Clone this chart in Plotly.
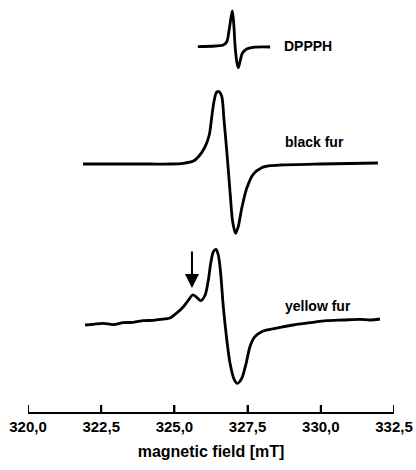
import plotly.graph_objects as go

# ---- data (magnetic field in mT, intensity in arbitrary units incl. vertical offset) ----
dpph_field = [325.80, 326.39, 326.67, 326.79, 326.86, 326.93, 326.98, 327.03, 327.07,
              327.13, 327.18, 327.24, 327.32, 327.47, 327.69, 328.27]
dpph_signal = [365.3, 366.0, 367.0, 370.3, 380.3, 393.7, 401.0, 387.0, 367.0,
               350.3, 344.3, 350.3, 358.7, 363.0, 364.7, 365.0]

black_field = [321.88, 322.80, 324.17, 324.85, 325.30, 325.65, 325.87, 326.05, 326.19,
               326.27, 326.35, 326.44, 326.53, 326.62, 326.69, 326.79, 326.90, 326.99,
               327.09, 327.18, 327.30, 327.47, 327.69, 327.98, 328.27, 328.61, 329.97,
               331.95]
black_signal = [248.0, 248.0, 248.0, 248.0, 248.7, 251.0, 257.0, 265.3, 277.0,
                293.7, 310.3, 319.7, 320.3, 315.3, 293.7, 260.3, 220.3, 190.3,
                178.7, 185.3, 203.7, 223.7, 237.7, 244.3, 246.3, 247.0, 248.0,
                249.0]

yellow_field = [321.95, 322.23, 322.57, 322.91, 323.25, 323.60, 323.94, 324.28, 324.51,
                324.85, 325.08, 325.30, 325.47, 325.62, 325.76, 325.90, 326.05, 326.16,
                326.24, 326.33, 326.42, 326.50, 326.58, 326.67, 326.79, 326.90, 327.04,
                327.15, 327.30, 327.45, 327.58, 327.75, 327.98, 328.27, 328.61, 329.06,
                329.63, 330.20, 330.77, 331.34, 331.68, 332.02]
yellow_signal = [87.0, 87.7, 88.7, 87.3, 89.3, 89.7, 91.3, 91.7, 92.7,
                 94.0, 99.0, 105.0, 111.5, 117.0, 114.7, 111.3, 117.0, 132.0,
                 148.7, 160.3, 162.7, 157.0, 138.7, 105.3, 72.0, 48.7, 32.7,
                 28.7, 33.7, 48.7, 65.3, 75.3, 80.3, 82.7, 84.7, 87.0,
                 89.3, 91.3, 92.0, 92.7, 92.0, 93.0]

tick_vals = [320.0, 322.5, 325.0, 327.5, 330.0, 332.5]
tick_labels = ["320,0", "322,5", "325,0", "327,5", "330,0", "332,5"]

labels = ["DPPPH", "black fur", "yellow fur"]
label_field = [328.67, 328.71, 328.70]
label_y = [366.5, 270.0, 106.0]

arrow_field = 325.60
arrow_tail = 162.0
arrow_tip = 124.0

FONT = "Liberation Sans, Arial, sans-serif"

fig = go.Figure()
for xs, ys in [(dpph_field, dpph_signal), (black_field, black_signal), (yellow_field, yellow_signal)]:
    fig.add_trace(go.Scatter(x=xs, y=ys, mode="lines",
                             line=dict(color="black", width=2.8, shape="spline", smoothing=0.8),
                             showlegend=False, hoverinfo="skip"))

for t, fx, fy in zip(labels, label_field, label_y):
    fig.add_annotation(x=fx, y=fy, text=t, showarrow=False, xanchor="left", yanchor="middle",
                       font=dict(family=FONT, size=14, color="black", weight="bold"))

fig.add_annotation(x=arrow_field, y=arrow_tip, ax=arrow_field, ay=arrow_tail,
                   xref="x", yref="y", axref="x", ayref="y", text="",
                   showarrow=True, arrowhead=2, arrowsize=1.4, arrowwidth=2, arrowcolor="black")

# upward-pointing tick marks at each tick value
for tv in tick_vals:
    fig.add_shape(type="line", xref="x", yref="paper", ysizemode="pixel", yanchor=0,
                  x0=tv, x1=tv, y0=0, y1=7, line=dict(color="black", width=2))

fig.update_layout(
    width=416, height=470,
    margin=dict(l=28, r=22, t=0, b=58, autoexpand=False),
    paper_bgcolor="white", plot_bgcolor="white",
    font=dict(family=FONT, color="black"),
    xaxis=dict(range=[320, 332.5], tickvals=tick_vals, ticktext=tick_labels,
               automargin=False, layer="above traces",
               showline=True, linecolor="black", linewidth=2,
               ticks="inside", ticklen=7, tickwidth=2, tickcolor="black",
               showgrid=False, zeroline=False,
               tickfont=dict(family=FONT, size=15, color="black", weight="bold"),
               title=dict(text="magnetic field [mT]", standoff=12,
                          font=dict(family=FONT, size=16, color="black", weight="bold"))),
    yaxis=dict(range=[0, 412], visible=False, showgrid=False, zeroline=False,
               automargin=False),
)

fig.write_html("out.html", config={"displayModeBar": False, "staticPlot": True},
               post_script="document.body.style.margin='0';document.body.style.overflow='hidden';")
